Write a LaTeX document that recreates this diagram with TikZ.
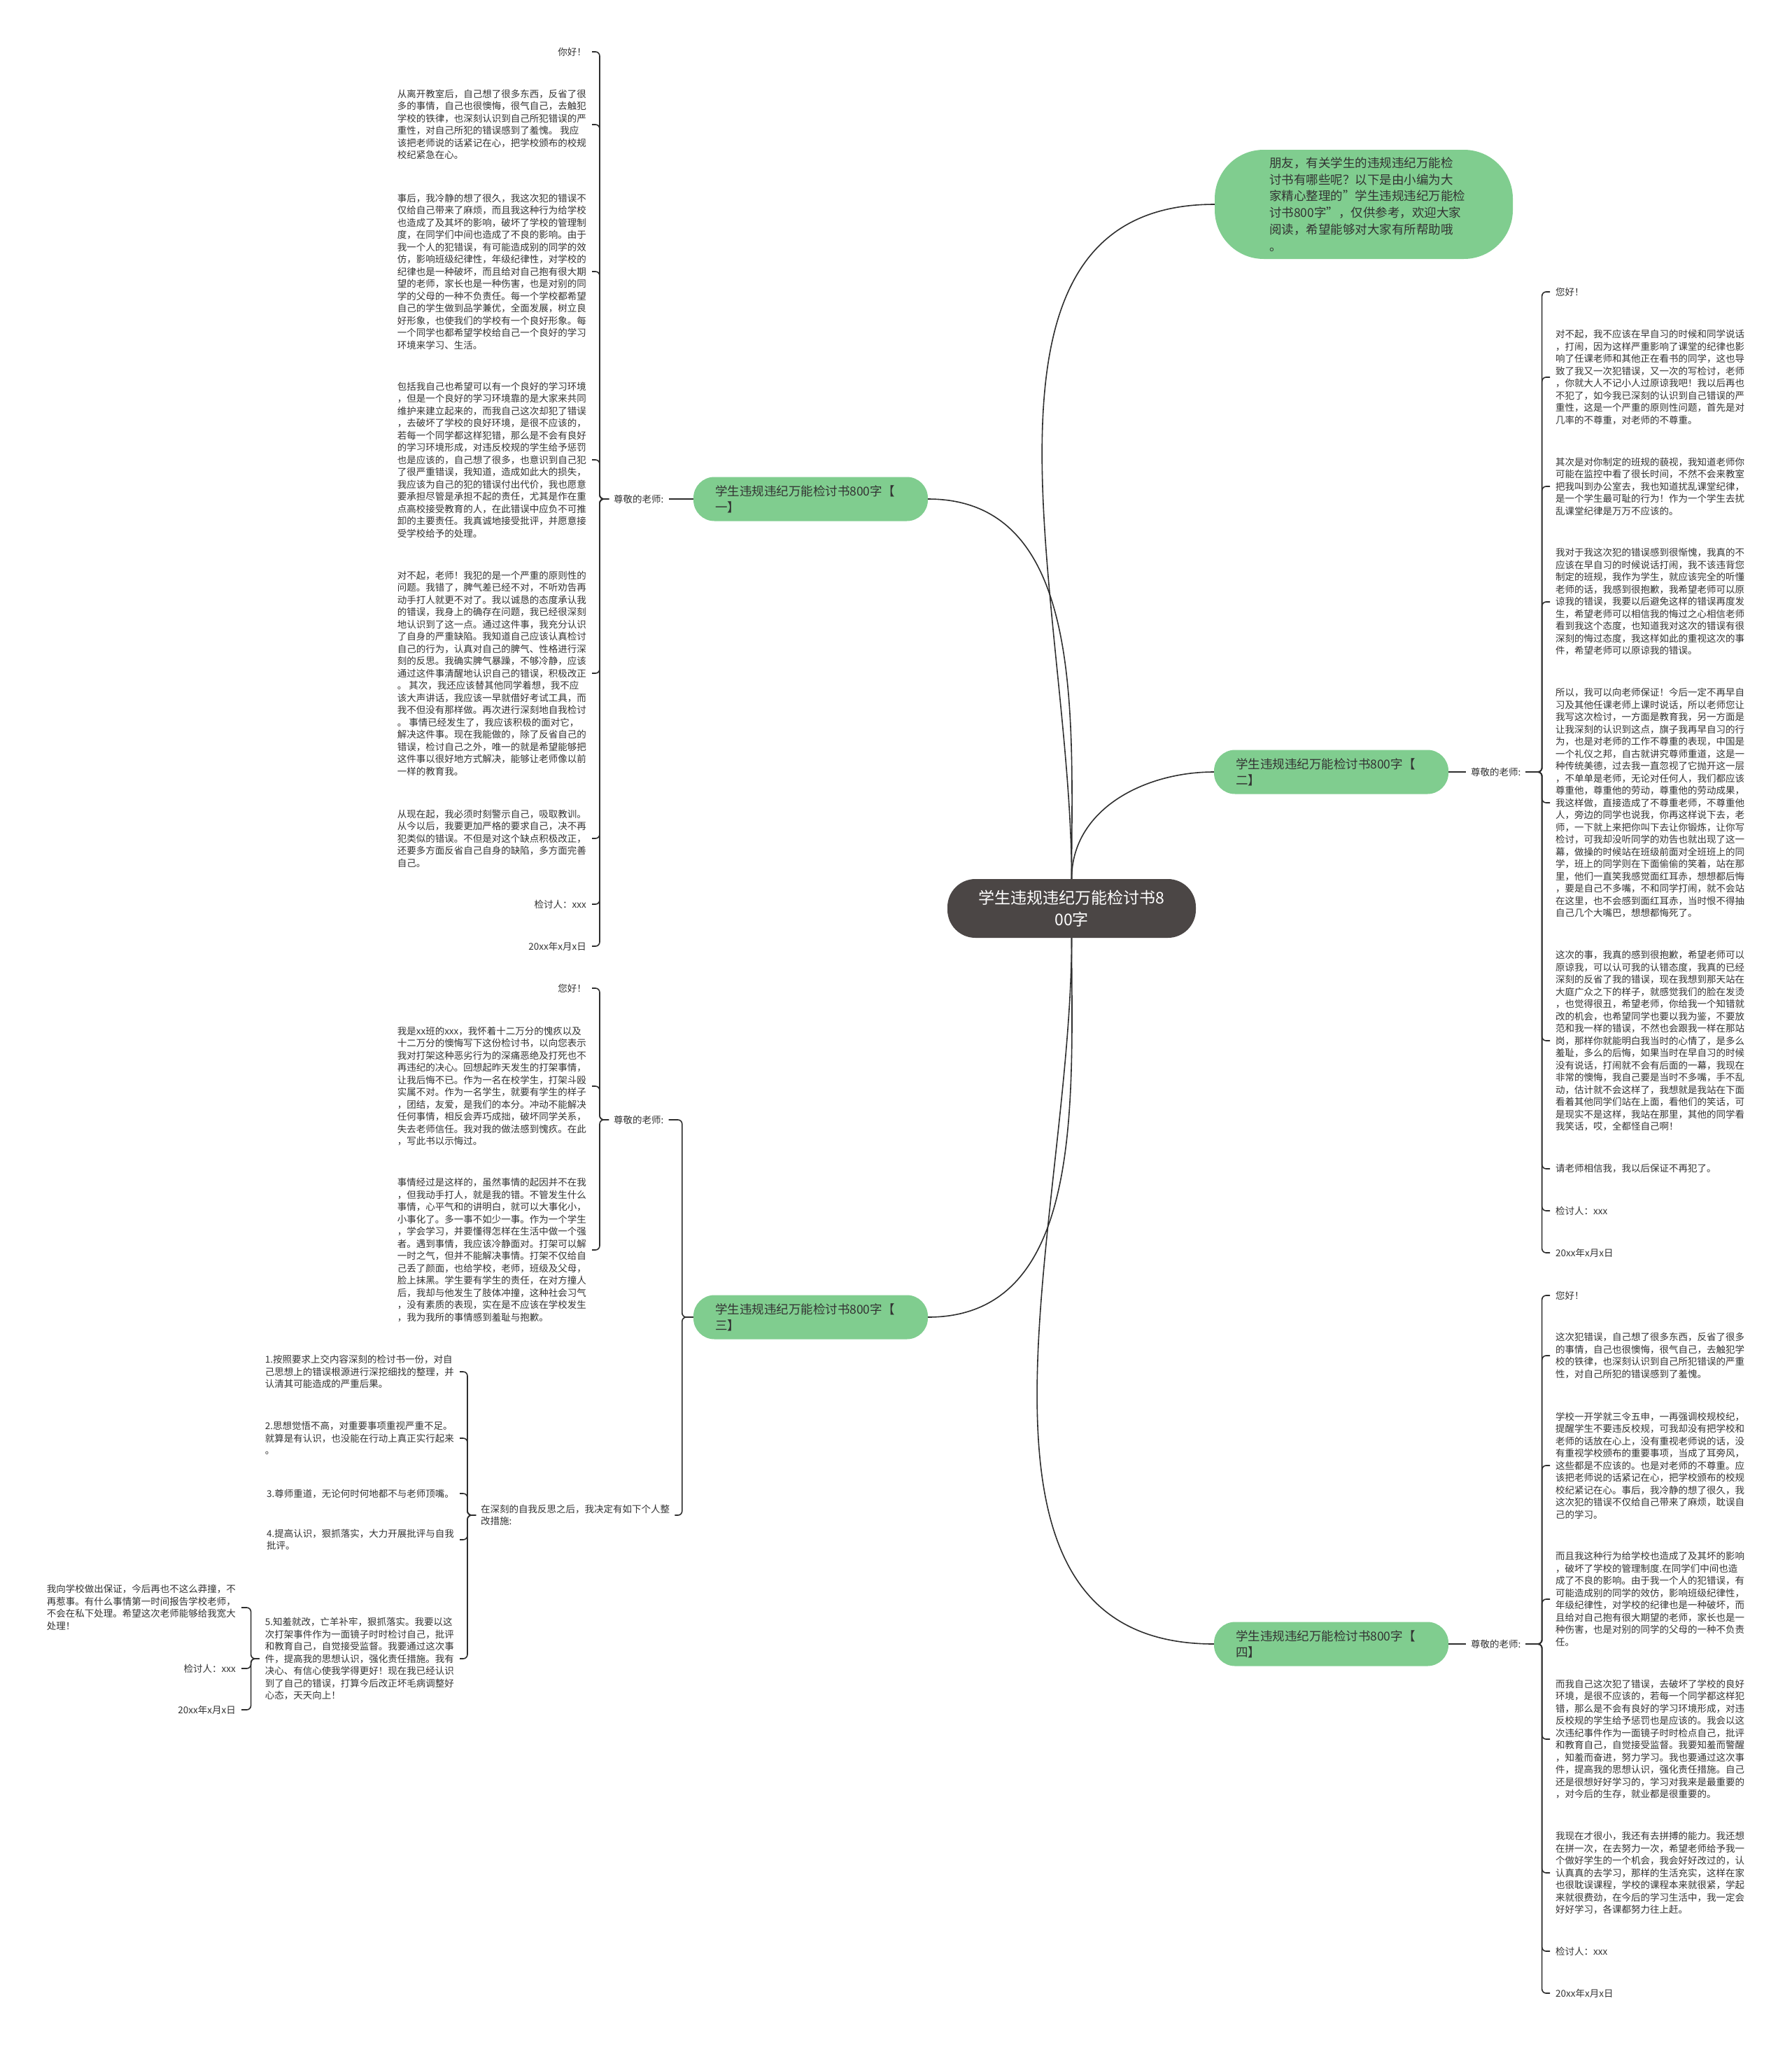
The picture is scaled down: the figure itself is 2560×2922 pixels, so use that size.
\documentclass[tikz,border=0pt]{standalone}
\usepackage{fontspec}
\setmainfont{Noto Sans CJK SC}
\definecolor{leafgreen}{HTML}{80CD8F}
\definecolor{rootgray}{HTML}{4B4645}
\definecolor{linkgray}{HTML}{2E2E2E}
\definecolor{textgray}{HTML}{333333}
\begin{document}
\begin{tikzpicture}[x=1pt, y=-1pt,
  link/.style={draw=linkgray, line width=1.6pt},
  brace/.style={link, rounded corners=6pt},
  rootnode/.style={fill=rootgray, text=white, rounded corners=40pt, minimum width=355pt, minimum height=84pt, align=center, font=\fontsize{23}{31}\selectfont},
  branch/.style={fill=leafgreen, text=textgray, rounded corners=30pt, minimum width=335pt, minimum height=63pt, text width=273pt, inner xsep=31pt, align=left, font=\fontsize{17.5}{23}\selectfont},
  leaf/.style={text=textgray, align=left, inner xsep=8pt, inner ysep=2pt, font=\fontsize{13.5}{17.5}\selectfont},
  teacher/.style={leaf, inner xsep=7pt}]
\useasboundingbox[fill=white] (0,0) rectangle (2560,2922);

% Centro e ramos
\node[rootnode] (root) at (1531.5,1298) {学生违规违纪万能检讨书8\\00字};
\node[branch, minimum width=426pt, minimum height=156pt, text width=270pt, inner xsep=78pt, rounded corners=70pt, font=\fontsize{17.5}{23.8}\selectfont] (intro) at (1949,292) {朋友，有关学生的违规违纪万能检\\讨书有哪些呢？以下是由小编为大\\家精心整理的"学生违规违纪万能检\\讨书800字"，仅供参考，欢迎大家\\阅读，希望能够对大家有所帮助哦\\。};
\node[branch] (b1) at (1158.5,713) {学生违规违纪万能检讨书800字【\\一】};
\node[branch] (b2) at (1902.5,1103) {学生违规违纪万能检讨书800字【\\二】};
\node[branch] (b3) at (1158.5,1882) {学生违规违纪万能检讨书800字【\\三】};
\node[branch] (b4) at (1902.5,2349) {学生违规违纪万能检讨书800字【\\四】};

\draw[link] (root.north) to[out=90, in=180] (intro.west);
\draw[link] (root.north) to[out=90, in=0] (b1.east);
\draw[link] (root.north) to[out=90, in=180] (b2.west);
\draw[link] (root.south) to[out=-90, in=0] (b3.east);
\draw[link] (root.south) to[out=-90, in=180] (b4.west);

% Ramo um
\node[teacher, anchor=west] (t1) at (870,713) {尊敬的老师:};
\draw[link] (b1.west) -- (t1.east);
\node[leaf, anchor=east] (a1) at (846,74) {你好！};
\node[leaf, anchor=east] (a2) at (846,178) {从离开教室后，自己想了很多东西，反省了很\\多的事情，自己也很懊悔，很气自己，去触犯\\学校的铁律，也深刻认识到自己所犯错误的严\\重性，对自己所犯的错误感到了羞愧。 我应\\该把老师说的话紧记在心，把学校颁布的校规\\校纪紧急在心。};
\node[leaf, anchor=east] (a3) at (846,388) {事后，我冷静的想了很久，我这次犯的错误不\\仅给自己带来了麻烦，而且我这种行为给学校\\也造成了及其坏的影响，破坏了学校的管理制\\度，在同学们中间也造成了不良的影响。由于\\我一个人的犯错误，有可能造成别的同学的效\\仿，影响班级纪律性，年级纪律性，对学校的\\纪律也是一种破坏，而且给对自己抱有很大期\\望的老师，家长也是一种伤害，也是对别的同\\学的父母的一种不负责任。每一个学校都希望\\自己的学生做到品学兼优，全面发展，树立良\\好形象，也使我们的学校有一个良好形象。每\\一个同学也都希望学校给自己一个良好的学习\\环境来学习、生活。};
\node[leaf, anchor=east] (a4) at (846,657) {包括我自己也希望可以有一个良好的学习环境\\，但是一个良好的学习环境靠的是大家来共同\\维护来建立起来的，而我自己这次却犯了错误\\，去破坏了学校的良好环境，是很不应该的，\\若每一个同学都这样犯错，那么是不会有良好\\的学习环境形成，对违反校规的学生给予惩罚\\也是应该的，自己想了很多，也意识到自己犯\\了很严重错误，我知道，造成如此大的损失，\\我应该为自己的犯的错误付出代价，我也愿意\\要承担尽管是承担不起的责任，尤其是作在重\\点高校接受教育的人，在此错误中应负不可推\\卸的主要责任。我真诚地接受批评，并愿意接\\受学校给予的处理。};
\node[leaf, anchor=east] (a5) at (846,962) {对不起，老师！我犯的是一个严重的原则性的\\问题。我错了，脾气差已经不对，不听劝告再\\动手打人就更不对了。我以诚恳的态度承认我\\的错误，我身上的确存在问题，我已经很深刻\\地认识到了这一点。通过这件事，我充分认识\\了自身的严重缺陷。我知道自己应该认真检讨\\自己的行为，认真对自己的脾气、性格进行深\\刻的反思。我确实脾气暴躁，不够冷静，应该\\通过这件事清醒地认识自己的错误，积极改正\\。 其次，我还应该替其他同学着想，我不应\\该大声讲话，我应该一早就借好考试工具，而\\我不但没有那样做。再次进行深刻地自我检讨\\。 事情已经发生了，我应该积极的面对它，\\解决这件事。现在我能做的，除了反省自己的\\错误，检讨自己之外，唯一的就是希望能够把\\这件事以很好地方式解决，能够让老师像以前\\一样的教育我。};
\node[leaf, anchor=east] (a6) at (846,1198) {从现在起，我必须时刻警示自己，吸取教训。\\从今以后，我要更加严格的要求自己，决不再\\犯类似的错误。不但是对这个缺点积极改正，\\还要多方面反省自己自身的缺陷，多方面完善\\自己。};
\node[leaf, anchor=east] (a7) at (846,1292) {检讨人：xxx};
\node[leaf, anchor=east] (a8) at (846,1352) {20xx年x月x日};
\draw[brace] (t1.west) -- ++(-13,0) |- (a1.east);
\draw[brace] (t1.west) -- ++(-13,0) |- (a2.east);
\draw[brace] (t1.west) -- ++(-13,0) |- (a3.east);
\draw[brace] (t1.west) -- ++(-13,0) |- (a4.east);
\draw[brace] (t1.west) -- ++(-13,0) |- (a5.east);
\draw[brace] (t1.west) -- ++(-13,0) |- (a6.east);
\draw[brace] (t1.west) -- ++(-13,0) |- (a7.east);
\draw[brace] (t1.west) -- ++(-13,0) |- (a8.east);

% Ramo dois
\node[teacher, anchor=west] (t2) at (2095,1103) {尊敬的老师:};
\draw[link] (b2.east) -- (t2.west);
\node[leaf, anchor=west] (r1) at (2215,417) {您好！};
\node[leaf, anchor=west] (r2) at (2215,539) {对不起，我不应该在早自习的时候和同学说话\\，打闹，因为这样严重影响了课堂的纪律也影\\响了任课老师和其他正在看书的同学，这也导\\致了我又一次犯错误，又一次的写检讨，老师\\，你就大人不记小人过原谅我吧！我以后再也\\不犯了，如今我已深刻的认识到自己错误的严\\重性，这是一个严重的原则性问题，首先是对\\几率的不尊重，对老师的不尊重。};
\node[leaf, anchor=west] (r3) at (2215,695) {其次是对你制定的班规的藐视，我知道老师你\\可能在监控中看了很长时间，不然不会来教室\\把我叫到办公室去，我也知道扰乱课堂纪律，\\是一个学生最可耻的行为！作为一个学生去扰\\乱课堂纪律是万万不应该的。};
\node[leaf, anchor=west] (r4) at (2215,860) {我对于我这次犯的错误感到很惭愧，我真的不\\应该在早自习的时候说话打闹，我不该违背您\\制定的班规，我作为学生，就应该完全的听懂\\老师的话，我感到很抱歉，我希望老师可以原\\谅我的错误，我要以后避免这样的错误再度发\\生，希望老师可以相信我的悔过之心相信老师\\看到我这个态度，也知道我对这次的错误有很\\深刻的悔过态度，我这样如此的重视这次的事\\件，希望老师可以原谅我的错误。};
\node[leaf, anchor=west] (r5) at (2215,1147) {所以，我可以向老师保证！今后一定不再早自\\习及其他任课老师上课时说话，所以老师您让\\我写这次检讨，一方面是教育我，另一方面是\\让我深刻的认识到这点，旗子我再早自习的行\\为，也是对老师的工作不尊重的表现，中国是\\一个礼仪之邦，自古就讲究尊师重道，这是一\\种传统美德，过去我一直忽视了它抛开这一层\\，不单单是老师，无论对任何人，我们都应该\\尊重他，尊重他的劳动，尊重他的劳动成果，\\我这样做，直接造成了不尊重老师，不尊重他\\人，旁边的同学也说我，你再这样说下去，老\\师，一下就上来把你叫下去让你锻炼，让你写\\检讨，可我却没听同学的劝告也就出现了这一\\幕，做操的时候站在班级前面对全班班上的同\\学，班上的同学则在下面偷偷的笑着，站在那\\里，他们一直笑我感觉面红耳赤，想想都后悔\\，要是自己不多嘴，不和同学打闹，就不会站\\在这里，也不会感到面红耳赤，当时恨不得抽\\自己几个大嘴巴，想想都悔死了。};
\node[leaf, anchor=west] (r6) at (2215,1487) {这次的事，我真的感到很抱歉，希望老师可以\\原谅我，可以认可我的认错态度，我真的已经\\深刻的反省了我的错误，现在我想到那天站在\\大庭广众之下的样子，就感觉我们的脸在发烫\\，也觉得很丑，希望老师，你给我一个知错就\\改的机会，也希望同学也要以我为鉴，不要放\\范和我一样的错误，不然也会跟我一样在那站\\岗，那样你就能明白我当时的心情了，是多么\\羞耻，多么的后悔，如果当时在早自习的时候\\没有说话，打闹就不会有后面的一幕，我现在\\非常的懊悔，我自己要是当时不多嘴，手不乱\\动，估计就不会这样了，我想就是我站在下面\\看着其他同学们站在上面，看他们的笑话，可\\是现实不是这样，我站在那里，其他的同学看\\我笑话，哎，全都怪自己啊！};
\node[leaf, anchor=west] (r7) at (2215,1670) {请老师相信我，我以后保证不再犯了。};
\node[leaf, anchor=west] (r8) at (2215,1730) {检讨人：xxx};
\node[leaf, anchor=west] (r9) at (2215,1790) {20xx年x月x日};
\draw[brace] (t2.east) -- ++(23,0) |- (r1.west);
\draw[brace] (t2.east) -- ++(23,0) |- (r2.west);
\draw[brace] (t2.east) -- ++(23,0) |- (r3.west);
\draw[brace] (t2.east) -- ++(23,0) |- (r4.west);
\draw[brace] (t2.east) -- ++(23,0) |- (r5.west);
\draw[brace] (t2.east) -- ++(23,0) |- (r6.west);
\draw[brace] (t2.east) -- ++(23,0) |- (r7.west);
\draw[brace] (t2.east) -- ++(23,0) |- (r8.west);
\draw[brace] (t2.east) -- ++(23,0) |- (r9.west);

% Ramo tres
\node[teacher, anchor=west] (t3) at (870,1600) {尊敬的老师:};
\node[teacher, anchor=west] (fix) at (680,2165) {在深刻的自我反思之后，我决定有如下个人整\\改措施:};
\draw[brace] (b3.west) -- ++(-16,0) |- (t3.east);
\draw[brace] (b3.west) -- ++(-16,0) |- (fix.east);
\node[leaf, anchor=east] (c1) at (846,1412) {您好！};
\node[leaf, anchor=east] (c2) at (846,1552) {我是xx班的xxx，我怀着十二万分的愧疚以及\\十二万分的懊悔写下这份检讨书，以向您表示\\我对打架这种恶劣行为的深痛恶绝及打死也不\\再违纪的决心。回想起昨天发生的打架事情，\\让我后悔不已。作为一名在校学生，打架斗殴\\实属不对。作为一名学生，就要有学生的样子\\，团结，友爱，是我们的本分。冲动不能解决\\任何事情，相反会弄巧成拙，破坏同学关系，\\失去老师信任。我对我的做法感到愧疚。在此\\，写此书以示悔过。};
\node[leaf, anchor=east] (c3) at (846,1786) {事情经过是这样的，虽然事情的起因并不在我\\，但我动手打人，就是我的错。不管发生什么\\事情，心平气和的讲明白，就可以大事化小，\\小事化了。多一事不如少一事。作为一个学生\\，学会学习，并要懂得怎样在生活中做一个强\\者。遇到事情，我应该冷静面对。打架可以解\\一时之气，但并不能解决事情。打架不仅给自\\己丢了颜面，也给学校，老师，班级及父母，\\脸上抹黑。学生要有学生的责任，在对方撞人\\后，我却与他发生了肢体冲撞，这种社会习气\\，没有素质的表现，实在是不应该在学校发生\\，我为我所的事情感到羞耻与抱歉。};
\draw[brace] (t3.west) -- ++(-13,0) |- (c1.east);
\draw[brace] (t3.west) -- ++(-13,0) |- (c2.east);
\draw[brace] (t3.west) -- ++(-13,0) |- (c3.east);
\node[leaf, anchor=east] (m1) at (657,1960) {1.按照要求上交内容深刻的检讨书一份，对自\\己思想上的错误根源进行深挖细找的整理，并\\认清其可能造成的严重后果。};
\node[leaf, anchor=east] (m2) at (657,2055) {2.思想觉悟不高，对重要事项重视严重不足。\\就算是有认识，也没能在行动上真正实行起来\\。};
\node[leaf, anchor=east] (m3) at (657,2134) {3.尊师重道，无论何时何地都不与老师顶嘴。};
\node[leaf, anchor=east] (m4) at (657,2200) {4.提高认识，狠抓落实，大力开展批评与自我\\批评。};
\node[leaf, anchor=east] (m5) at (657,2370) {5.知羞就改，亡羊补牢，狠抓落实。我要以这\\次打架事件作为一面镜子时时检讨自己，批评\\和教育自己，自觉接受监督。我要通过这次事\\件，提高我的思想认识，强化责任措施。我有\\决心、有信心使我学得更好！现在我已经认识\\到了自己的错误，打算今后改正坏毛病调整好\\心态，天天向上！};
\draw[brace] (fix.west) -- ++(-12,0) |- (m1.east);
\draw[brace] (fix.west) -- ++(-12,0) |- (m2.east);
\draw[brace] (fix.west) -- ++(-12,0) |- (m3.east);
\draw[brace] (fix.west) -- ++(-12,0) |- (m4.east);
\draw[brace] (fix.west) -- ++(-12,0) |- (m5.east);
\node[leaf, anchor=east] (n1) at (345,2297) {我向学校做出保证，今后再也不这么莽撞，不\\再惹事。有什么事情第一时间报告学校老师，\\不会在私下处理。希望这次老师能够给我宽大\\处理！};
\node[leaf, anchor=east] (n2) at (345,2384) {检讨人：xxx};
\node[leaf, anchor=east] (n3) at (345,2443) {20xx年x月x日};
\draw[brace] (m5.west) -- ++(-12,0) |- (n1.east);
\draw[brace] (m5.west) -- ++(-12,0) |- (n2.east);
\draw[brace] (m5.west) -- ++(-12,0) |- (n3.east);

% Ramo quatro
\node[teacher, anchor=west] (t4) at (2095,2349) {尊敬的老师:};
\draw[link] (b4.east) -- (t4.west);
\node[leaf, anchor=west] (s1) at (2215,1851) {您好！};
\node[leaf, anchor=west] (s2) at (2215,1937) {这次犯错误，自己想了很多东西，反省了很多\\的事情，自己也很懊悔，很气自己，去触犯学\\校的铁律，也深刻认识到自己所犯错误的严重\\性，对自己所犯的错误感到了羞愧。};
\node[leaf, anchor=west] (s3) at (2215,2094) {学校一开学就三令五申，一再强调校规校纪，\\提醒学生不要违反校规，可我却没有把学校和\\老师的话放在心上，没有重视老师说的话，没\\有重视学校颁布的重要事项，当成了耳旁风，\\这些都是不应该的。也是对老师的不尊重。应\\该把老师说的话紧记在心，把学校颁布的校规\\校纪紧记在心。事后，我冷静的想了很久，我\\这次犯的错误不仅给自己带来了麻烦，耽误自\\己的学习。};
\node[leaf, anchor=west] (s4) at (2215,2285) {而且我这种行为给学校也造成了及其坏的影响\\，破坏了学校的管理制度.在同学们中间也造\\成了不良的影响。由于我一个人的犯错误，有\\可能造成别的同学的效仿，影响班级纪律性，\\年级纪律性，对学校的纪律也是一种破坏，而\\且给对自己抱有很大期望的老师，家长也是一\\种伤害，也是对别的同学的父母的一种不负责\\任。};
\node[leaf, anchor=west] (s5) at (2215,2485) {而我自己这次犯了错误，去破坏了学校的良好\\环境，是很不应该的，若每一个同学都这样犯\\错，那么是不会有良好的学习环境形成，对违\\反校规的学生给予惩罚也是应该的。我会以这\\次违纪事件作为一面镜子时时检点自己，批评\\和教育自己，自觉接受监督。我要知羞而警醒\\，知羞而奋进，努力学习。我也要通过这次事\\件，提高我的思想认识，强化责任措施。自己\\还是很想好好学习的，学习对我来是最重要的\\，对今后的生存，就业都是很重要的。};
\node[leaf, anchor=west] (s6) at (2215,2676) {我现在才很小，我还有去拼搏的能力。我还想\\在拼一次，在去努力一次，希望老师给予我一\\个做好学生的一个机会，我会好好改过的，认\\认真真的去学习，那样的生活充实，这样在家\\也很耽误课程，学校的课程本来就很紧，学起\\来就很费劲，在今后的学习生活中，我一定会\\好好学习，各课都努力往上赶。};
\node[leaf, anchor=west] (s7) at (2215,2788) {检讨人：xxx};
\node[leaf, anchor=west] (s8) at (2215,2848) {20xx年x月x日};
\draw[brace] (t4.east) -- ++(23,0) |- (s1.west);
\draw[brace] (t4.east) -- ++(23,0) |- (s2.west);
\draw[brace] (t4.east) -- ++(23,0) |- (s3.west);
\draw[brace] (t4.east) -- ++(23,0) |- (s4.west);
\draw[brace] (t4.east) -- ++(23,0) |- (s5.west);
\draw[brace] (t4.east) -- ++(23,0) |- (s6.west);
\draw[brace] (t4.east) -- ++(23,0) |- (s7.west);
\draw[brace] (t4.east) -- ++(23,0) |- (s8.west);
\end{tikzpicture}
\end{document}
